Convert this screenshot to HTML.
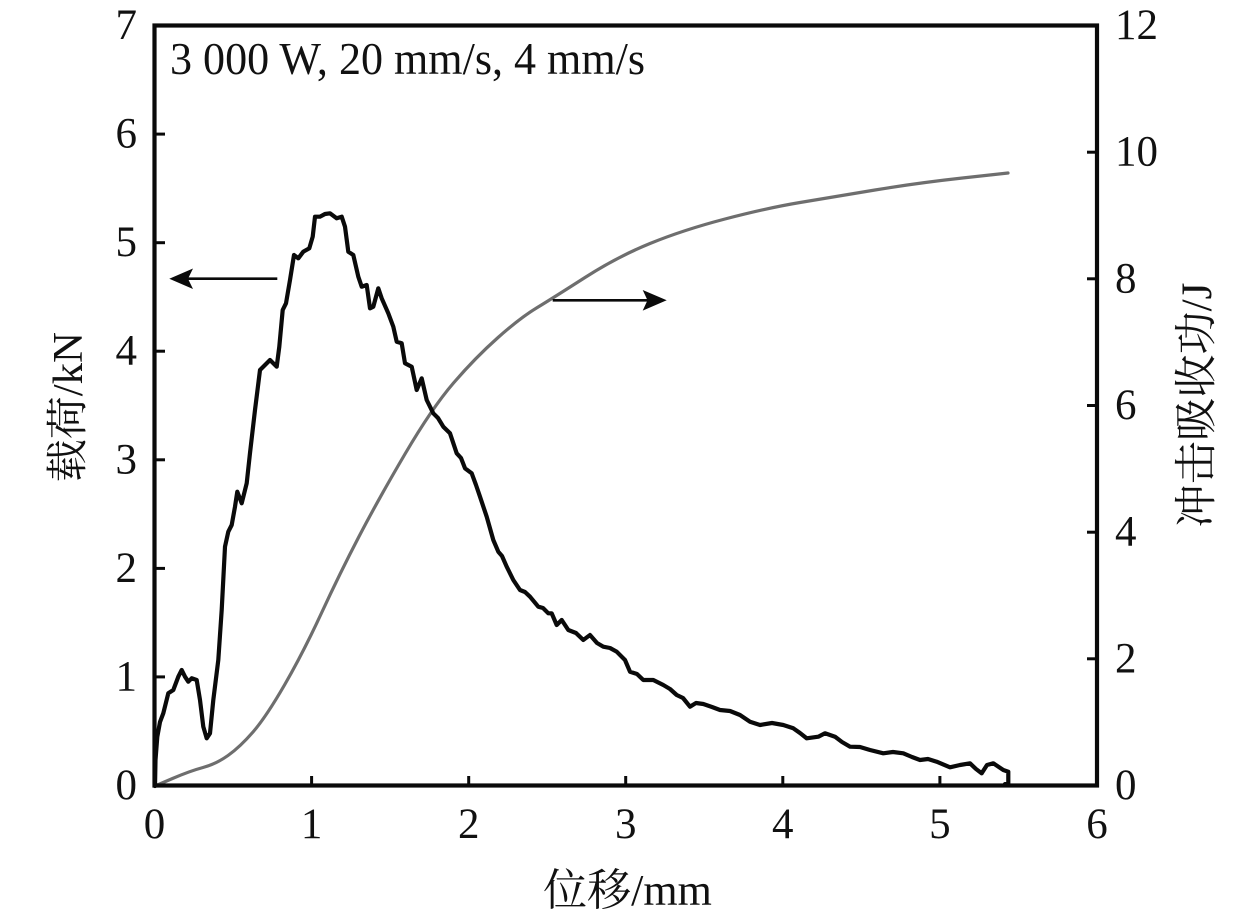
<!DOCTYPE html>
<html>
<head>
<meta charset="utf-8">
<style>
  html, body { margin: 0; padding: 0; background: #ffffff; }
  body { width: 1260px; height: 919px; overflow: hidden; }
  svg { display: block; }
  .tick { font-family: "Liberation Serif", "Noto Serif CJK SC", serif; font-size: 43px; fill: #111; }
  .title { font-family: "Liberation Serif", "Noto Serif CJK SC", serif; fill: #111; }
</style>
</head>
<body>
<svg width="1260" height="919" viewBox="0 0 1260 919" xmlns="http://www.w3.org/2000/svg">
  <rect x="0" y="0" width="1260" height="919" fill="#ffffff"/>

  <!-- Energy curve (gray) -->
  <path fill="none" stroke="#6e6e6e" stroke-width="3.2" stroke-linejoin="round" stroke-linecap="round"
    d="M155,786 L172.5,778.5 Q190,771 203,767.5 Q216,764 228,755.5 Q240,747 253,732 Q266,717 284.5,685 Q303,653 321.5,613 Q340,573 359,536.5 Q378,500 405,454 Q432,408 453.5,383 Q475,358 497.5,338 Q520,318 536.5,308 Q553,298 585,277.5 Q617,257 650,243.5 Q683,230 725,219 Q767,208 800,202.5 Q833,197 875,190 Q917,183 962.5,178 L1008,173"/>

  <!-- Load curve (black) -->
  <polyline fill="none" stroke="#0a0a0a" stroke-width="4.2" stroke-linejoin="round" stroke-linecap="round"
    points="155,786 155.5,760 157.3,736.7 160,722 163.3,713.3 168.3,693.3 173.3,690 178.3,676.7 181.7,670 185,676.7 188.3,681.7 191.7,678.3 196.7,680 200,700 203.3,726.7 206.7,738.3 210,733.3 213.3,700 218.3,660 221.7,610 225,546.7 228.3,531.7 231.7,525 235,506.7 237.3,491.7 241.7,503.3 246.7,483.3 250,453 255,410 260,370 265,365 270,360 276.7,366.7 279.3,346.7 282.7,310 286,303.3 290,280 294,255 298.3,258.3 303.3,251.7 309.3,248.3 312.7,236.7 315,216.7 320,216.7 325,214 330,213.3 336.7,218.3 341.7,216.7 345,226.7 348.3,251.7 353.3,255 358.3,276.7 361.7,286.7 366.7,285 370,308.3 373.3,306.7 378.3,288.3 381.7,298.3 388.3,313.3 393.3,326.7 396.7,341.7 401.7,343.3 405,363.3 411.7,366.7 416.7,390 421.7,378.3 426.7,400 433.3,413.3 438,418 443.3,426.7 450,433.3 456.7,453.3 461,458 465,468.3 471.7,473.3 476,485 480,496.7 486.7,516.7 493.3,540 498.3,551.7 502,556 506.7,566.7 513.3,580 520,590 525,592 530,596.7 538.3,606.7 543,608 548.3,613.3 551.7,613.3 556.7,625 561.7,620 568.3,630 576,633 583.3,640 590,635 597,643 603.3,646.7 610,648 616.7,651.7 625,660 630,671.7 637,674 643.3,680 653.3,680 663.3,685 670,689 676.7,695 683,698 690,706.7 696,703 703.3,704 712,707 720,710 730,711 740,715 750,721.7 760,725 772,723 783.3,725 793.3,728.3 800,733 806.7,738.3 818.3,736.7 825,733.3 835,736.7 842,742 850,746.7 860,747 870,750 883.3,753.3 893,752 903.3,753.3 912,757 920,760 928,759 936.7,761.7 950,767.3 960,765 970,763.3 976,769 981.7,773.3 987,765 993.3,763.3 1003.3,770 1008.3,771.7 1008.3,783.3 1005,784"/>

  <!-- Axes frame -->
  <rect x="154.5" y="25.5" width="942.5" height="760" fill="none" stroke="#0a0a0a" stroke-width="4.2"/>

  <!-- Ticks -->
  <g stroke="#0a0a0a" stroke-width="3">
    <line x1="154.5" y1="676.9" x2="165" y2="676.9"/>
    <line x1="154.5" y1="568.4" x2="165" y2="568.4"/>
    <line x1="154.5" y1="459.8" x2="165" y2="459.8"/>
    <line x1="154.5" y1="351.2" x2="165" y2="351.2"/>
    <line x1="154.5" y1="242.7" x2="165" y2="242.7"/>
    <line x1="154.5" y1="134.1" x2="165" y2="134.1"/>
    <line x1="1087" y1="658.8" x2="1097" y2="658.8"/>
    <line x1="1087" y1="532.2" x2="1097" y2="532.2"/>
    <line x1="1087" y1="405.5" x2="1097" y2="405.5"/>
    <line x1="1087" y1="278.8" x2="1097" y2="278.8"/>
    <line x1="1087" y1="152.2" x2="1097" y2="152.2"/>
    <line x1="311.6" y1="776" x2="311.6" y2="785.5"/>
    <line x1="468.7" y1="776" x2="468.7" y2="785.5"/>
    <line x1="625.7" y1="776" x2="625.7" y2="785.5"/>
    <line x1="782.8" y1="776" x2="782.8" y2="785.5"/>
    <line x1="939.9" y1="776" x2="939.9" y2="785.5"/>
  </g>

  <!-- Left tick labels -->
  <g class="tick" text-anchor="end">
    <text x="137" y="799">0</text>
    <text x="137" y="690.4">1</text>
    <text x="137" y="581.9">2</text>
    <text x="137" y="473.3">3</text>
    <text x="137" y="364.7">4</text>
    <text x="137" y="256.2">5</text>
    <text x="137" y="147.6">6</text>
    <text x="137" y="39">7</text>
  </g>

  <!-- Right tick labels -->
  <g class="tick" text-anchor="start">
    <text x="1115" y="799">0</text>
    <text x="1115" y="672.3">2</text>
    <text x="1115" y="545.7">4</text>
    <text x="1115" y="419">6</text>
    <text x="1115" y="292.3">8</text>
    <text x="1115" y="165.7">10</text>
    <text x="1115" y="39">12</text>
  </g>

  <!-- Bottom tick labels -->
  <g class="tick" text-anchor="middle">
    <text x="154.5" y="838">0</text>
    <text x="311.6" y="838">1</text>
    <text x="468.7" y="838">2</text>
    <text x="625.7" y="838">3</text>
    <text x="782.8" y="838">4</text>
    <text x="939.9" y="838">5</text>
    <text x="1097" y="838">6</text>
  </g>

  <!-- Axis titles -->
  <text class="title" x="627.5" y="905" font-size="44" text-anchor="middle">位移/mm</text>
  <text class="title" font-size="42" text-anchor="middle" transform="translate(82,407) rotate(-90)" textLength="150" lengthAdjust="spacingAndGlyphs">载荷/kN</text>
  <text class="title" font-size="43" text-anchor="middle" transform="translate(1211,405) rotate(-90)" textLength="245" lengthAdjust="spacingAndGlyphs">冲击吸收功/J</text>

  <!-- Annotation -->
  <text class="title" x="170" y="74" font-size="46" textLength="475" lengthAdjust="spacingAndGlyphs">3 000 W, 20 mm/s, 4 mm/s</text>

  <!-- Arrows -->
  <line x1="188" y1="278.7" x2="277.3" y2="278.7" stroke="#0a0a0a" stroke-width="2.6"/>
  <polygon points="169.3,278.7 193,268.5 188,278.7 193,289" fill="#0a0a0a"/>
  <line x1="552.7" y1="300.3" x2="648" y2="300.3" stroke="#0a0a0a" stroke-width="2.6"/>
  <polygon points="666.7,300.3 642.7,290 647.5,300.3 642.7,310.6" fill="#0a0a0a"/>
</svg>
</body>
</html>
